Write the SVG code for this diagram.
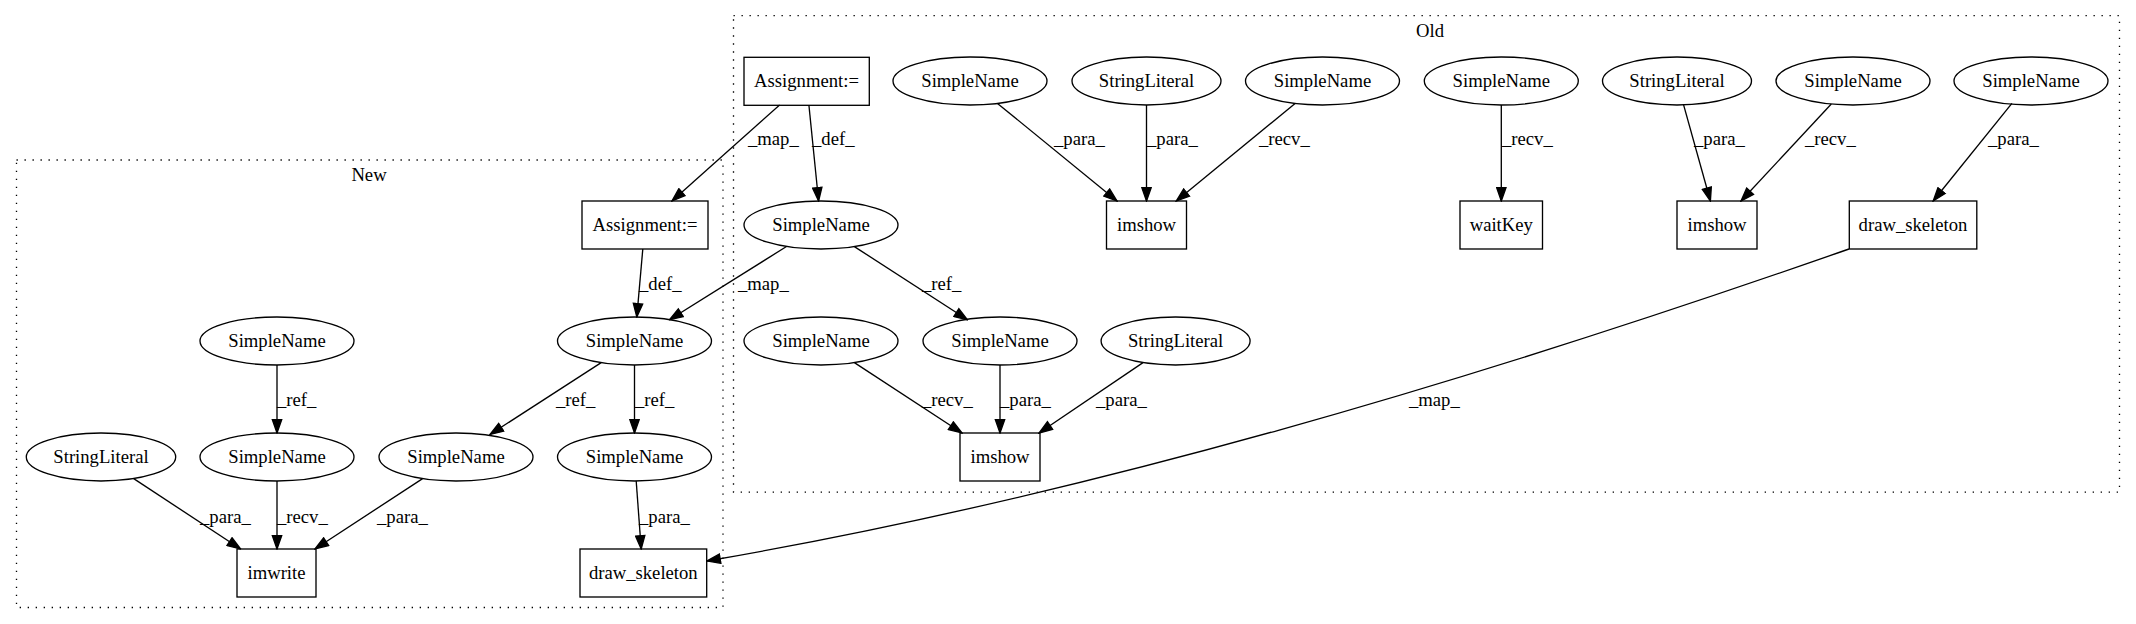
<svg xmlns="http://www.w3.org/2000/svg" width="2136" height="624" viewBox="0 0 2136 624">
<style>
text{font-family:"Liberation Serif","Times New Roman",serif;font-size:18.67px;fill:#000}
.n{text-anchor:middle}
.cl{fill:none;stroke:#000;stroke-width:1.33;stroke-dasharray:1.33,6.67}
.nd{fill:none;stroke:#000;stroke-width:1.33}
.e{fill:none;stroke:#000;stroke-width:1.33;marker-end:url(#ah)}
</style>
<defs>
<marker id="ah" markerUnits="userSpaceOnUse" viewBox="-1 -1 15.33 11.33" refX="13.33" refY="4.67" markerWidth="15.33" markerHeight="11.33" orient="auto">
<path d="M0,0L13.33,4.67L0,9.33z" fill="#000" stroke="#000" stroke-width="1.33"/>
</marker>
</defs>
<rect width="2136" height="624" fill="#fff"/>
<g id="cluster_old">
<rect class="cl" x="733.5" y="15.7" width="1386" height="476.5"/>
<text class="n" x="1430" y="37">Old</text>
</g>
<g id="cluster_new">
<rect class="cl" x="16.5" y="160" width="706.5" height="447.5"/>
<text class="n" x="369" y="181">New</text>
</g>
<g id="edges">
<path class="e" d="M808.9,105L818.6,201"/>
<text x="812" y="144.5">_def_</text>
<path class="e" d="M779.6,105L672,201"/>
<text x="748" y="144.5">_map_</text>
<path class="e" d="M997.5,103.4L1117,201"/>
<text x="1054" y="144.5">_para_</text>
<path class="e" d="M1146.5,105L1146.5,201"/>
<text x="1147" y="144.5">_para_</text>
<path class="e" d="M1295.1,103.4L1176.3,201"/>
<text x="1259" y="144.5">_recv_</text>
<path class="e" d="M1501.3,105L1501.3,201"/>
<text x="1502" y="144.5">_recv_</text>
<path class="e" d="M1683.6,104.9L1710.4,201"/>
<text x="1694" y="144.5">_para_</text>
<path class="e" d="M1831.3,104L1741,201"/>
<text x="1805" y="144.5">_recv_</text>
<path class="e" d="M2011.9,103.3L1933.2,201"/>
<text x="1988" y="144.5">_para_</text>
<path class="e" d="M854.4,246.6L967.5,319.8"/>
<text x="922" y="289.5">_ref_</text>
<path class="e" d="M786.5,246.5L669.5,319.8"/>
<text x="738" y="289.5">_map_</text>
<path class="e" d="M854.4,362.6L962,433"/>
<text x="922" y="405.5">_recv_</text>
<path class="e" d="M1000,365L1000,433"/>
<text x="1000" y="405.5">_para_</text>
<path class="e" d="M1143,362.6L1039,433"/>
<text x="1096" y="405.5">_para_</text>
<path class="e" d="M1849,249C1469,382 1088,495.4 707,561"/>
<text x="1409" y="406">_map_</text>
<path class="e" d="M642.8,249L636.8,317"/>
<text x="639" y="289.5">_def_</text>
<path class="e" d="M277,365L277,433"/>
<text x="277" y="405.5">_ref_</text>
<path class="e" d="M601.2,362.6L490,434.5"/>
<text x="556" y="405.5">_ref_</text>
<path class="e" d="M634.5,365L634.5,433"/>
<text x="635" y="405.5">_ref_</text>
<path class="e" d="M133.7,478.6L240.6,549"/>
<text x="200" y="522.5">_para_</text>
<path class="e" d="M277,481L277,549"/>
<text x="277" y="522.5">_recv_</text>
<path class="e" d="M422.6,478.6L315,549"/>
<text x="377" y="522.5">_para_</text>
<path class="e" d="M636.2,481L641.2,549"/>
<text x="639" y="522.5">_para_</text>
</g>
<g id="o_assign"><rect class="nd" x="744" y="57.3" width="125.3" height="48"/><text class="n" x="806.5" y="87.3">Assignment:=</text></g>
<g id="o_sn1"><ellipse class="nd" cx="970" cy="81" rx="77" ry="24"/><text class="n" x="970" y="87.3">SimpleName</text></g>
<g id="o_sl1"><ellipse class="nd" cx="1146.5" cy="81" rx="74.5" ry="24"/><text class="n" x="1146.5" y="87.3">StringLiteral</text></g>
<g id="o_sn2"><ellipse class="nd" cx="1322.5" cy="81" rx="77" ry="24"/><text class="n" x="1322.5" y="87.3">SimpleName</text></g>
<g id="o_sn3"><ellipse class="nd" cx="1501.3" cy="81" rx="77" ry="24"/><text class="n" x="1501.3" y="87.3">SimpleName</text></g>
<g id="o_sl2"><ellipse class="nd" cx="1677" cy="81" rx="74.5" ry="24"/><text class="n" x="1677" y="87.3">StringLiteral</text></g>
<g id="o_sn4"><ellipse class="nd" cx="1853" cy="81" rx="77" ry="24"/><text class="n" x="1853" y="87.3">SimpleName</text></g>
<g id="o_sn5"><ellipse class="nd" cx="2031" cy="81" rx="77" ry="24"/><text class="n" x="2031" y="87.3">SimpleName</text></g>
<g id="o_imshow1"><rect class="nd" x="1106.5" y="201" width="80" height="48"/><text class="n" x="1146.5" y="231.3">imshow</text></g>
<g id="o_waitkey"><rect class="nd" x="1460" y="201" width="82.5" height="48"/><text class="n" x="1501.3" y="231.3">waitKey</text></g>
<g id="o_imshow2"><rect class="nd" x="1677" y="201" width="80" height="48"/><text class="n" x="1717" y="231.3">imshow</text></g>
<g id="o_drawsk"><rect class="nd" x="1849.3" y="201" width="127.5" height="48"/><text class="n" x="1913" y="231.3">draw_skeleton</text></g>
<g id="o_snA"><ellipse class="nd" cx="821" cy="225" rx="77" ry="24"/><text class="n" x="821" y="231.3">SimpleName</text></g>
<g id="o_sn6"><ellipse class="nd" cx="821" cy="341" rx="77" ry="24"/><text class="n" x="821" y="347.3">SimpleName</text></g>
<g id="o_sn7"><ellipse class="nd" cx="1000" cy="341" rx="77" ry="24"/><text class="n" x="1000" y="347.3">SimpleName</text></g>
<g id="o_sl3"><ellipse class="nd" cx="1175.6" cy="341" rx="74.5" ry="24"/><text class="n" x="1175.6" y="347.3">StringLiteral</text></g>
<g id="o_imshow3"><rect class="nd" x="960" y="433" width="80" height="48"/><text class="n" x="1000" y="463.3">imshow</text></g>
<g id="n_assign"><rect class="nd" x="582" y="201" width="126" height="48"/><text class="n" x="645" y="231.3">Assignment:=</text></g>
<g id="n_snDef"><ellipse class="nd" cx="634.5" cy="341" rx="77" ry="24"/><text class="n" x="634.5" y="347.3">SimpleName</text></g>
<g id="n_snTop"><ellipse class="nd" cx="277" cy="341" rx="77" ry="24"/><text class="n" x="277" y="347.3">SimpleName</text></g>
<g id="n_sl"><ellipse class="nd" cx="101" cy="457" rx="74.7" ry="24"/><text class="n" x="101" y="463.3">StringLiteral</text></g>
<g id="n_snRecv"><ellipse class="nd" cx="277" cy="457" rx="77" ry="24"/><text class="n" x="277" y="463.3">SimpleName</text></g>
<g id="n_snPara"><ellipse class="nd" cx="456" cy="457" rx="77" ry="24"/><text class="n" x="456" y="463.3">SimpleName</text></g>
<g id="n_snDs"><ellipse class="nd" cx="634.5" cy="457" rx="77" ry="24"/><text class="n" x="634.5" y="463.3">SimpleName</text></g>
<g id="n_imwrite"><rect class="nd" x="237" y="549" width="79" height="48"/><text class="n" x="276.5" y="579.3">imwrite</text></g>
<g id="n_drawsk"><rect class="nd" x="580" y="549" width="126.7" height="48"/><text class="n" x="643.3" y="579.3">draw_skeleton</text></g>
</svg>
